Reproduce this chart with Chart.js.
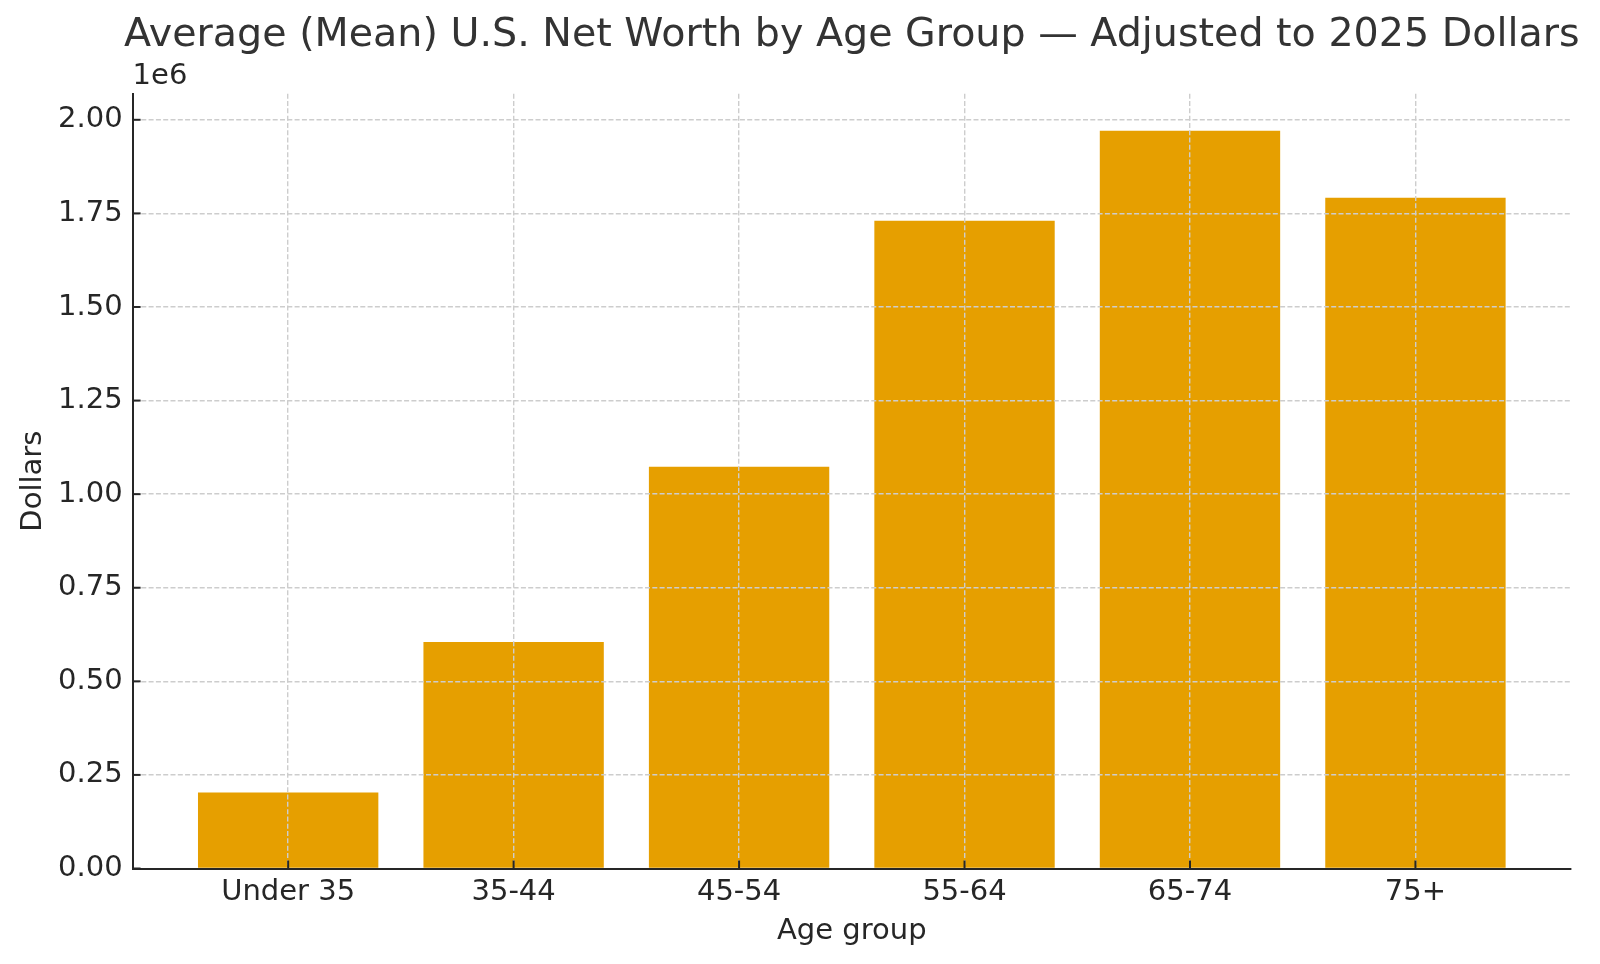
<!DOCTYPE html>
<html>
<head>
<meta charset="utf-8">
<script src="https://cdn.jsdelivr.net/npm/chart.js@4.4.1/dist/chart.umd.min.js"></script>
<style>
  html, body { margin: 0; padding: 0; background: #ffffff; }
  canvas { display: block; }
</style>
</head>
<body>
<canvas id="c" width="1600" height="964"></canvas>
<script>
const categories = ["Under 35", "35-44", "45-54", "55-64", "65-74", "75+"];
const meanNetWorth = [203000, 605000, 1073000, 1730000, 1971000, 1792000];
const yTickValues = [0, 250000, 500000, 750000, 1000000, 1250000, 1500000, 1750000, 2000000];
const yScaleFactor = 1e6;
const yOffsetLabel = "1e6";
const titleText = "Average (Mean) U.S. Net Worth by Age Group \u2014 Adjusted to 2025 Dollars";
const xTitle = "Age group";
const yTitle = "Dollars";

const FONT = "'DejaVu Sans', 'Liberation Sans', sans-serif";
const TEXT = "#262626";
const BAR = "#E69F00";
const GRID = "#cdcdcd";

// matplotlib-like 5% margins
const barFrac = 0.8;
const xLo = -barFrac / 2, xHi = categories.length - 1 + barFrac / 2;
const xPad = (xHi - xLo) * 0.05;
const yMax = Math.max(...meanNetWorth) * 1.05;

const points = meanNetWorth.map((v, i) => ({ x: i, y: v }));

const inwardTicks = {
  id: 'inwardTicks',
  afterLayout(chart) {
    // let the title (centred over the plot) overflow the plot width like matplotlib
    const tb = chart.titleBlock;
    if (tb) {
      const extra = 29;
      tb.left -= extra;
      tb.right += extra;
      tb.width = tb.right - tb.left;
    }
  },
  afterDraw(chart) {
    const { ctx, chartArea, scales } = chart;
    ctx.save();
    ctx.strokeStyle = TEXT;
    ctx.lineWidth = 2;
    const len = 8;
    scales.x.ticks.forEach(t => {
      const px = scales.x.getPixelForValue(t.value);
      ctx.beginPath();
      ctx.moveTo(px, chartArea.bottom);
      ctx.lineTo(px, chartArea.bottom - len);
      ctx.stroke();
    });
    scales.y.ticks.forEach(t => {
      const py = scales.y.getPixelForValue(t.value);
      ctx.beginPath();
      ctx.moveTo(chartArea.left, py);
      ctx.lineTo(chartArea.left + len, py);
      ctx.stroke();
    });
    ctx.restore();
  }
};

new Chart(document.getElementById('c'), {
  type: 'bar',
  data: {
    datasets: [{
      data: points,
      backgroundColor: BAR,
      borderWidth: 0,
      categoryPercentage: barFrac,
      barPercentage: 1.0
    }]
  },
  options: {
    responsive: false,
    devicePixelRatio: 1,
    animation: false,
    layout: { padding: { left: 0, right: 29, top: 0, bottom: 0 } },
    plugins: {
      legend: { display: false },
      tooltip: { enabled: false },
      title: {
        display: true,
        text: titleText,
        fullSize: false,
        color: "#333333",
        font: { family: FONT, size: 39.6, weight: 'normal', lineHeight: 1.1 },
        padding: { top: 13.9, bottom: 0 }
      },
      subtitle: {
        display: true,
        text: yOffsetLabel,
        fullSize: false,
        align: 'start',
        color: TEXT,
        font: { family: FONT, size: 29, weight: 'normal', lineHeight: 1.2 },
        padding: { top: 1.5, bottom: 0 }
      }
    },
    scales: {
      x: {
        type: 'linear',
        offset: false,
        min: xLo - xPad,
        max: xHi + xPad,
        afterBuildTicks(axis) {
          axis.ticks = categories.map((c, i) => ({ value: i }));
        },
        afterFit(axis) { axis.height = 95.5; },
        ticks: {
          autoSkip: false,
          maxRotation: 0,
          padding: 6.8,
          color: TEXT,
          font: { family: FONT, size: 29 },
          callback: (v) => categories[v]
        },
        grid: { display: true, offset: false, drawTicks: false, color: GRID, lineWidth: 1.4, z: 1 },
        border: { display: true, color: TEXT, width: 2, dash: [5, 2.3], z: 2 },
        title: {
          display: true,
          text: xTitle,
          color: TEXT,
          font: { family: FONT, size: 29, lineHeight: 1.2 },
          padding: { top: 0, bottom: 15 }
        }
      },
      y: {
        type: 'linear',
        min: 0,
        max: yMax,
        afterBuildTicks(axis) {
          axis.ticks = yTickValues.map(v => ({ value: v }));
        },
        afterFit(axis) { axis.width = 132.6; },
        ticks: {
          padding: 10,
          color: TEXT,
          font: { family: FONT, size: 29 },
          callback: (v) => (v / yScaleFactor).toFixed(2)
        },
        grid: { display: true, drawTicks: false, color: GRID, lineWidth: 1.4, z: 1 },
        border: { display: true, color: TEXT, width: 2, dash: [5, 2.3], z: 2 },
        title: {
          display: true,
          text: yTitle,
          color: TEXT,
          font: { family: FONT, size: 29, lineHeight: 1.2 },
          padding: { top: 15.9, bottom: 0 }
        }
      }
    }
  },
  plugins: [inwardTicks]
});
</script>
</body>
</html>
